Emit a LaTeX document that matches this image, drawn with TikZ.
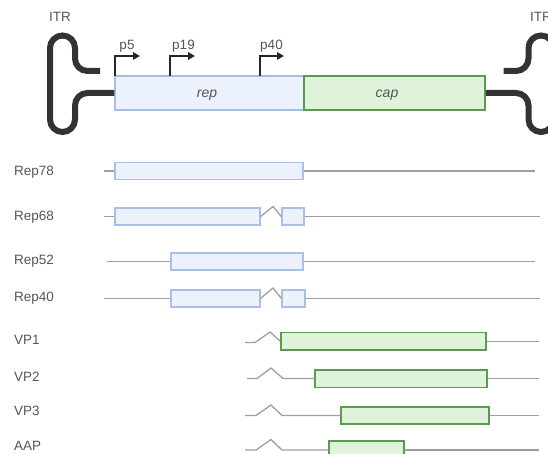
\documentclass[tikz,border=0pt]{standalone}
\usepackage{fontspec}
\setmainfont{Liberation Sans}
\usetikzlibrary{arrows.meta,fit}
\definecolor{repfill}{HTML}{EBF2FC}
\definecolor{repdraw}{HTML}{A8C0E6}
\definecolor{capfill}{HTML}{DEF3D9}
\definecolor{capdraw}{HTML}{5B9A4F}
\definecolor{itrc}{HTML}{333333}
\definecolor{txt}{HTML}{555555}
\definecolor{gl}{HTML}{9E9E9E}
\begin{document}
\begin{tikzpicture}[x=1pt,y=-1pt,
 lbl/.style={font=\fontsize{13.5}{16}\selectfont, text=txt, inner sep=0pt, anchor=base west},
 plbl/.style={font=\fontsize{13.5}{16}\selectfont, text=txt, inner sep=0pt, anchor=base},
 genelbl/.style={font=\fontsize{14}{16}\selectfont\itshape, text=txt, inner sep=0pt, anchor=base},
 repbox/.style={draw=repdraw, fill=repfill, line width=1.5pt, inner sep=0pt},
 capbox/.style={draw=capdraw, fill=capfill, line width=1.5pt, inner sep=0pt},
 gline/.style={draw=gl, line width=1.3pt},
 itr/.style={draw=itrc, line width=6pt, rounded corners=12.5pt},
 prom/.style={draw=black!85, line width=1.5pt, -{Triangle[length=7pt,width=7.5pt]}},
]
\useasboundingbox (0,0) rectangle (548,454);
\clip (0,0) rectangle (548,454);

% ---------- genome ----------
\node[repbox, fit={(115,76) (304,110)}] (rep) {};
\node[capbox, fit={(304,76) (485,110)}] (cap) {};
\node[genelbl] (reptxt) at (207,98) {rep};
\node[genelbl] (captxt) at (387,98) {cap};

% ITRs
\draw[itr] (100,71) -- (75,71) -- (75,35.5) -- (50,35.5) -- (50,132) -- (75,132) -- (75,93) -- (rep.west);
\draw[itr] (cap.east) -- (528.5,93) -- (528.5,132) -- (553.5,132) -- (553.5,35.5) -- (528.5,35.5) -- (528.5,71) -- (503.5,71);
\node[plbl] (itrl) at (60,22) {ITR};
\node[plbl] (itrr) at (541,22) {ITR};

% promoters
\coordinate (p5b) at (115,76);  \coordinate (p5t) at (115,56);  \coordinate (p5h) at (140,56);
\coordinate (p19b) at (170,76); \coordinate (p19t) at (170,56); \coordinate (p19h) at (195,56);
\coordinate (p40b) at (260,76); \coordinate (p40t) at (260,56); \coordinate (p40h) at (284,56);
\draw[prom] (p5b) -- (p5t) -- (p5h);
\draw[prom] (p19b) -- (p19t) -- (p19h);
\draw[prom] (p40b) -- (p40t) -- (p40h);
\node[plbl] (p5) at (127,49.5) {p5};
\node[plbl] (p19) at (183.5,49.5) {p19};
\node[plbl] (p40) at (271.5,49.5) {p40};

% ---------- Rep proteins ----------
\node[lbl] (l78) at (14,175.7) {Rep78};
\node[lbl] (l68) at (14,221) {Rep68};
\node[lbl] (l52) at (14,264.3) {Rep52};
\node[lbl] (l40) at (14,301.7) {Rep40};

% Rep78
\node[repbox, fit={(115,162.5) (303,179.5)}] (r78) {};
\coordinate (r78s) at (104,171); \coordinate (r78e) at (535,171);
\draw[gline] (r78s) -- (r78.west);
\draw[gline] (r78.east) -- (r78e);

% Rep68
\node[repbox, fit={(115,208) (260,225)}] (r68a) {};
\node[repbox, fit={(282,208) (304,225)}] (r68b) {};
\coordinate (r68s) at (104,216.5); \coordinate (r68e) at (540,216.5);
\coordinate (r68p) at (273,206.5);
\draw[gline] (r68s) -- (r68a.west);
\draw[gline] (r68a.east) -- (r68p) -- (r68b.west);
\draw[gline] (r68b.east) -- (r68e);

% Rep52
\node[repbox, fit={(171,253) (303,270)}] (r52) {};
\coordinate (r52s) at (107,261.5); \coordinate (r52e) at (535,261.5);
\draw[gline] (r52s) -- (r52.west);
\draw[gline] (r52.east) -- (r52e);

% Rep40
\node[repbox, fit={(171,289.8) (260,306.8)}] (r40a) {};
\node[repbox, fit={(282,289.8) (305,306.8)}] (r40b) {};
\coordinate (r40s) at (104,298.3); \coordinate (r40e) at (540,298.3);
\coordinate (r40p) at (273,288);
\draw[gline] (r40s) -- (r40a.west);
\draw[gline] (r40a.east) -- (r40p) -- (r40b.west);
\draw[gline] (r40b.east) -- (r40e);

% ---------- Cap proteins ----------
\node[lbl] (lvp1) at (14,344) {VP1};
\node[lbl] (lvp2) at (14,381) {VP2};
\node[lbl] (lvp3) at (14,415.7) {VP3};
\node[lbl] (laap) at (14,450) {AAP};

% VP1
\node[capbox, fit={(281,332.5) (486,350)}] (vp1) {};
\coordinate (vp1s) at (245,342.5); \coordinate (vp1k) at (255,342.5);
\coordinate (vp1p) at (270,332); \coordinate (vp1e) at (539,341.25);
\draw[gline] (vp1s) -- (vp1k) -- (vp1p) -- (vp1.west);
\draw[gline] (vp1.east) -- (vp1e);

% VP2
\node[capbox, fit={(315,369.75) (487,387.25)}] (vp2) {};
\coordinate (vp2s) at (247,378.5); \coordinate (vp2k) at (257,378.5);
\coordinate (vp2p) at (271,368); \coordinate (vp2d) at (283,378.5);
\coordinate (vp2e) at (539,378.5);
\draw[gline] (vp2s) -- (vp2k) -- (vp2p) -- (vp2d) -- (vp2.west);
\draw[gline] (vp2.east) -- (vp2e);

% VP3
\node[capbox, fit={(341,407) (489,424)}] (vp3) {};
\coordinate (vp3s) at (245,415.5); \coordinate (vp3k) at (256,415.5);
\coordinate (vp3p) at (271,405); \coordinate (vp3d) at (282,415.5);
\coordinate (vp3e) at (539,415.5);
\draw[gline] (vp3s) -- (vp3k) -- (vp3p) -- (vp3d) -- (vp3.west);
\draw[gline] (vp3.east) -- (vp3e);

% AAP
\node[capbox, fit={(329,441) (404,459)}] (aap) {};
\coordinate (aaps) at (245,450); \coordinate (aapk) at (256,450);
\coordinate (aapp) at (271,439.5); \coordinate (aapd) at (282,450);
\coordinate (aape) at (539,450);
\draw[gline] (aaps) -- (aapk) -- (aapp) -- (aapd) -- (aap.west);
\draw[gline] (aap.east) -- (aape);
\end{tikzpicture}
\end{document}
